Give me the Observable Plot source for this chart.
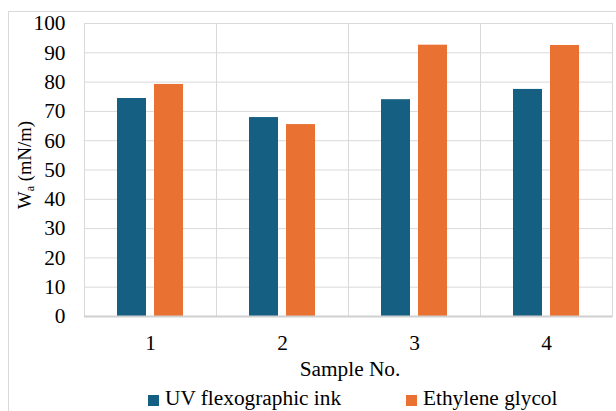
<!DOCTYPE html>
<html>
<head>
<meta charset="utf-8">
<script src="https://cdn.jsdelivr.net/npm/d3@7"></script>
<script src="https://cdn.jsdelivr.net/npm/@observablehq/plot@0.6"></script>
<style>
  html, body { margin: 0; padding: 0; background: #fff; }
  #wrap { position: relative; width: 616px; height: 411px; overflow: hidden; font-family: "Liberation Serif", Tinos, "Times New Roman", Times, "Nimbus Roman", "DejaVu Serif", "Noto Serif", serif; color: #000; }
  #outer { position: absolute; left: 8px; top: 11px; width: 700px; height: 500px; border-left: 1px solid #d9d9d9; border-top: 1px solid #d9d9d9; }
  #chart { position: absolute; left: 0; top: 0; }
  #chart svg, #chart svg text { font-family: "Liberation Serif", Tinos, "Times New Roman", Times, "Nimbus Roman", "DejaVu Serif", "Noto Serif", serif; }
  .ylab { position: absolute; left: 25px; top: 165px; transform: translate(-50%, -50%) rotate(-90deg); white-space: nowrap; font-size: 18.67px; line-height: 1; }
  .ylab sub { font-size: 0.65em; vertical-align: baseline; position: relative; top: 0.25em; }
  .xlab { position: absolute; left: 350px; top: 359px; transform: translateX(-50%); font-size: 21.33px; line-height: 21.33px; white-space: nowrap; }
  .leg { position: absolute; top: 388px; font-size: 21.33px; line-height: 21.33px; white-space: nowrap; display: flex; align-items: center; }
  .sw { display: inline-block; width: 11px; height: 11px; margin-right: 6px; position: relative; top: 2px; }
</style>
</head>
<body>
<div id="wrap">
  <div id="outer"></div>
  <div id="chart"></div>
  <div class="ylab">W<sub>a</sub> (mN/m)</div>
  <div class="xlab">Sample No.</div>
  <div id="legend"></div>
</div>
<script>
const samples = ["1", "2", "3", "4"];
const seriesNames = ["UV flexographic ink", "Ethylene glycol"];
const uvInk = [74.4, 67.9, 74.0, 77.5];
const ethyleneGlycol = [79.2, 65.5, 92.6, 92.5];
const yTicks = [0, 10, 20, 30, 40, 50, 60, 70, 80, 90, 100];
const colors = ["#156082", "#E97132"];

const data = [];
samples.forEach((s, i) => {
  data.push({sample: s, series: seriesNames[0], value: uvInk[i]});
  data.push({sample: s, series: seriesNames[1], value: ethyleneGlycol[i]});
});

const chart = Plot.plot({
  width: 616,
  height: 390,
  marginLeft: 84,
  marginRight: 4,
  marginTop: 23,
  marginBottom: 74,
  style: {fontSize: "21.33px", color: "#000", background: "transparent"},
  fx: {domain: samples, padding: 0, label: null},
  x: {domain: seriesNames, paddingInner: 0.213, paddingOuter: 0.867, axis: null},
  y: {domain: [0, 100], label: null},
  color: {domain: seriesNames, range: colors},
  marks: [
    Plot.gridY(yTicks, {stroke: "#d9d9d9", strokeOpacity: 1, strokeWidth: 1}),
    Plot.frame({stroke: "#d9d9d9", strokeWidth: 1}),
    Plot.barY(data, {fx: "sample", x: "series", y: "value", fill: "series"}),
    Plot.ruleY([0], {stroke: "#d0d0d0", strokeWidth: 2}),
    Plot.axisY(yTicks, {tickSize: 0, tickPadding: 19, label: null, fontSize: 21.33}),
    Plot.axisFx({anchor: "bottom", tickSize: 0, tickPadding: 18, label: null, fontSize: 21.33})
  ]
});
document.getElementById("chart").appendChild(chart);

const legend = document.getElementById("legend");
const legLefts = [148, 406];
seriesNames.forEach((name, i) => {
  const item = document.createElement("div");
  item.className = "leg";
  item.style.left = legLefts[i] + "px";
  const sw = document.createElement("span");
  sw.className = "sw";
  sw.style.background = colors[i];
  item.appendChild(sw);
  item.appendChild(document.createTextNode(name));
  legend.appendChild(item);
});
</script>
</body>
</html>
